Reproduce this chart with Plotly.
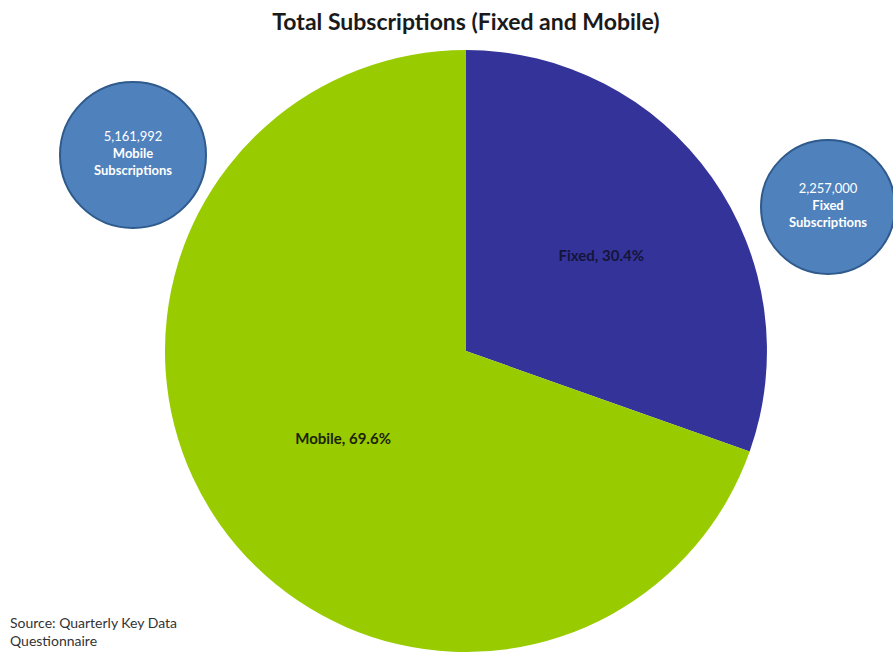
import plotly.graph_objects as go

categories = ["Fixed", "Mobile"]
values = [2257000, 5161992]
colors = ["#333399", "#99CC00"]
bubble_numbers = ["2,257,000", "5,161,992"]

W, H = 893, 652
MT, MB = 50, 0
PH = H - MT - MB

def px_x(x):
    return x / W

def px_y(y):
    return (H - MB - y) / PH

total = sum(values)
text_labels = [f"{c}, {v / total * 100:.1f}%" for c, v in zip(categories, values)]

fig = go.Figure(go.Pie(
    labels=categories,
    values=values,
    sort=False,
    direction="clockwise",
    rotation=0,
    marker=dict(colors=colors, line=dict(width=0)),
    text=text_labels,
    textinfo="text",
    textposition="inside",
    insidetextorientation="horizontal",
    insidetextfont=dict(family="Lato", size=15, color=["#15153a", "#1c2408"], weight="bold"),
    hoverinfo="label+value+percent",
    showlegend=False,
    domain=dict(x=[0.15, 0.8936], y=[0, 1]),
))

shapes = []
annotations = []

# bubbles: (x0, x1, y0, y1) in pixels, text
bubbles = [
    ((60, 206, 82, 228), bubble_numbers[1], "Mobile"),
    ((761, 895, 140, 274), bubble_numbers[0], "Fixed"),
]
for (x0, x1, y0, y1), num, name in bubbles:
    shapes.append(dict(
        type="circle", xref="paper", yref="paper",
        x0=px_x(x0), x1=px_x(x1), y0=px_y(y1), y1=px_y(y0),
        fillcolor="#4F81BD", line=dict(color="#2F5A8C", width=2),
        layer="above",
    ))
    cx = (x0 + x1) / 2
    cy = (y0 + y1) / 2
    annotations.append(dict(
        xref="paper", yref="paper", x=px_x(cx), y=px_y(cy - 2),
        text=f"{num}<br><b>{name}</b><br><b>Subscriptions</b>",
        showarrow=False, align="center", xanchor="center", yanchor="middle",
        font=dict(family="Lato", size=13, color="white"),
    ))

annotations.append(dict(
    xref="paper", yref="paper", x=px_x(8), y=px_y(612),
    text="Source: Quarterly Key Data<br>Questionnaire",
    showarrow=False, align="left", xanchor="left", yanchor="top",
    font=dict(family="Lato", size=14, color="#333333"),
))

fig.update_layout(
    width=W, height=H,
    margin=dict(l=0, r=0, t=MT, b=MB),
    paper_bgcolor="white",
    plot_bgcolor="white",
    title=dict(
        text="<b>Total Subscriptions (Fixed and Mobile)</b>",
        x=466 / W, xanchor="center", y=1 - 22 / H, yanchor="middle",
        font=dict(family="Lato", size=23, color="#1a1a1a"),
    ),
    shapes=shapes,
    annotations=annotations,
)

fig.write_html("out.html")
